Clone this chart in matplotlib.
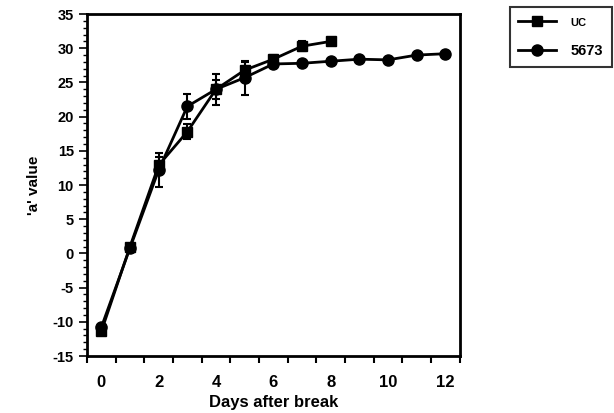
import numpy as np
import matplotlib.pyplot as plt
from matplotlib.lines import Line2D
from matplotlib.ticker import MultipleLocator, FixedLocator

plt.rcParams['font.family'] = ['Liberation Sans', 'DejaVu Sans']
plt.rcParams['font.weight'] = 'bold'
plt.rcParams['axes.unicode_minus'] = False

# UC series (squares)
days_uc = [0, 1, 2, 3, 4, 5, 6, 7, 8]
a_uc = [-11.4, 1.0, 12.9, 17.8, 24.0, 26.8, 28.4, 30.3, 31.0]
err_uc = [0.5, 0.4, 1.2, 1.1, 1.4, 1.2, 0.6, 0.7, 0.3]

# 5673 series (circles)
days_5673 = [0, 1, 2, 3, 4, 5, 6, 7, 8, 9, 10, 11, 12]
a_5673 = [-10.8, 0.8, 12.2, 21.5, 24.0, 25.7, 27.7, 27.8, 28.1, 28.4, 28.3, 29.0, 29.2]
err_5673 = [0.4, 0.4, 2.5, 1.8, 2.3, 2.5, 0.6, 0.3, 0.2, 0.2, 0.2, 0.2, 0.2]

fig = plt.figure(figsize=(6.14, 4.13), dpi=100)
ax = fig.add_axes([0.1417, 0.138, 0.607, 0.828])

ax.errorbar(days_uc, a_uc, yerr=err_uc, color='black', marker='s', ms=7,
            lw=2, elinewidth=1.5, capsize=3, capthick=1.5)
ax.errorbar(days_5673, a_5673, yerr=err_5673, color='black', marker='o', ms=8,
            lw=2, elinewidth=1.5, capsize=3, capthick=1.5)

ax.set_xlim(-0.5, 12.5)
ax.set_ylim(-15, 35)
ax.xaxis.set_major_locator(FixedLocator(range(0, 13, 2)))
ax.xaxis.set_minor_locator(FixedLocator(np.arange(-0.5, 12.6, 1)))
ax.yaxis.set_major_locator(MultipleLocator(5))
ax.yaxis.set_minor_locator(MultipleLocator(1))
ax.tick_params(axis='x', which='major', length=0, pad=14, labelsize=12)
ax.tick_params(axis='x', which='minor', length=5, width=1.5, direction='out')
ax.tick_params(axis='y', which='major', length=6, width=1.2, direction='out', labelsize=10.5)
ax.tick_params(axis='y', which='minor', length=3, width=1, direction='out')
for s in ax.spines.values():
    s.set_linewidth(2)

ax.set_xlabel('Days after break', fontsize=12, fontweight='bold', labelpad=3)
ax.set_ylabel("'a' value", fontsize=11, fontweight='bold', labelpad=8)

handles = [Line2D([], [], color='black', marker='s', ms=7, lw=2),
           Line2D([], [], color='black', marker='o', ms=8, lw=2)]
leg = fig.legend(handles, ['UC', '5673'], loc='upper left',
                 bbox_to_anchor=(0.818, 1.0), frameon=True,
                 fancybox=False, edgecolor='black', handlelength=2.6,
                 borderpad=0.6, labelspacing=1.1, handletextpad=1.0,
                 prop={'weight': 'bold', 'size': 10.5})
leg.get_frame().set_linewidth(1.5)
leg.get_texts()[0].set_fontsize(8)

fig.savefig('out.png', dpi=100)
